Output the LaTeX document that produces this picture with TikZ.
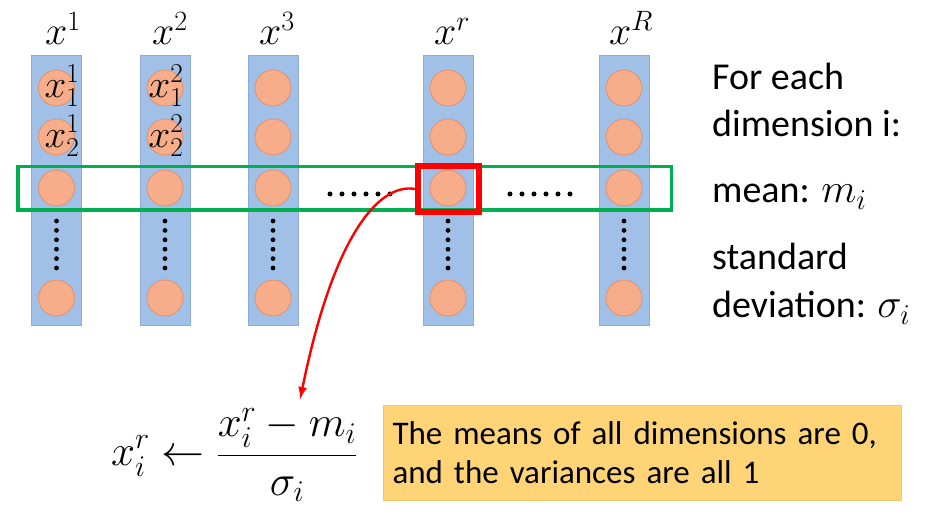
\documentclass[tikz,border=0pt]{standalone}
\usepackage{fix-cm}
\usepackage{fontspec}
\setmainfont{Carlito}
\usetikzlibrary{arrows.meta}
\definecolor{colfill}{RGB}{160,192,232}
\definecolor{coldraw}{RGB}{140,172,215}
\definecolor{circfill}{RGB}{247,172,138}
\definecolor{circdraw}{RGB}{226,145,110}
\definecolor{pptgreen}{RGB}{0,176,80}
\definecolor{pptred}{RGB}{255,0,0}
\definecolor{notefill}{RGB}{255,212,118}
\definecolor{notedraw}{RGB}{240,196,105}
\begin{document}
\begin{tikzpicture}[x=1pt,y=-1pt,
  column/.style={draw=coldraw, fill=colfill, line width=0.8pt, minimum width=50pt, minimum height=270pt, inner sep=0pt},
  unit/.style={circle, draw=circdraw, fill=circfill, line width=0.8pt, minimum size=36pt, inner sep=0pt},
  veclabel/.style={font=\fontsize{40}{44}\selectfont, inner sep=0pt, anchor=base},
  elemlabel/.style={font=\fontsize{39}{42}\selectfont, inner sep=0pt},
  sidetext/.style={font=\fontsize{38}{46}\selectfont, inner sep=0pt, anchor=base west},
  dimbox/.style={draw=pptgreen, line width=3.5pt, minimum width=653.5pt, minimum height=43.5pt, inner sep=0pt},
  pickbox/.style={draw=pptred, line width=6pt, minimum width=61pt, minimum height=46pt, inner sep=0pt},
  note/.style={draw=notedraw, fill=notefill, line width=0.8pt, minimum width=515pt, minimum height=95pt,
    text width=500pt, align=left, inner xsep=9pt, font=\fontsize{33}{39}\selectfont},
  vdot/.style={fill=black}
]
\useasboundingbox (0,0) rectangle (946,526);

% columns
\foreach \n/\cx in {c1/56.5,c2/165,c3/273,cr/448,cR/624}{
  \node[column] (\n) at (\cx,190) {};
  \node[unit] (\n a) at (\cx,88) {};
  \node[unit] (\n b) at (\cx,137) {};
  \node[unit] (\n c) at (\cx,188) {};
  \node[unit] (\n d) at (\cx,298) {};
  \foreach \k in {0,...,5}{
    \fill[vdot] (\cx,{221+\k*9.4}) circle (2.4pt);
  }
}

% horizontal ellipses
\foreach \k in {0,...,5}{
  \fill[vdot] ({330+12*\k},194) circle (2.5pt);
  \fill[vdot] ({510+12*\k},194) circle (2.5pt);
}

% boxes
\node[dimbox] (dim) at (344.5,188.5) {};
\node[pickbox] (pick) at (448.5,189) {};

% top labels
\node[veclabel] (l1) at (63,45) {$x^1$};
\node[veclabel] (l2) at (170,45) {$x^2$};
\node[veclabel] (l3) at (277,45) {$x^3$};
\node[veclabel] (lr) at (452,45) {$x^r$};
\node[veclabel] (lR) at (631,45) {$x^R$};

% element labels
\node[elemlabel] (e11) at (62,86) {$x_1^1$};
\node[elemlabel] (e12) at (62,136) {$x_2^1$};
\node[elemlabel] (e21) at (166,86) {$x_1^2$};
\node[elemlabel] (e22) at (166,136) {$x_2^2$};

% side text
\node[sidetext] (t1) at (712,90) {For each};
\node[sidetext] (t2) at (712,137) {dimension i:};
\node[sidetext] (t3) at (712,203) {mean: {\fontsize{41}{46}\selectfont$m_i$}};
\node[sidetext] (t4) at (712,270) {standard};
\node[sidetext] (t5) at (712,318) {deviation: {\fontsize{41}{46}\selectfont$\sigma_i$}};

% formula
\node[font=\fontsize{43}{48}\selectfont, inner sep=0pt, anchor=base west] (rule) at (111,466)
  {$\displaystyle x_i^r \leftarrow \frac{x_i^r - m_i}{\sigma_i}$};
\coordinate (tip) at (300,400);

% note
\node[note] (nb) at (642.5,452.5) {The means of all dimensions are 0,\\and the variances are all 1};

% arrow
\draw[pptred, line width=2.4pt, -{Latex[length=13pt,width=9pt]}]
  (pick.west) .. controls (382,183) and (335,228) .. (tip);
\end{tikzpicture}
\end{document}
